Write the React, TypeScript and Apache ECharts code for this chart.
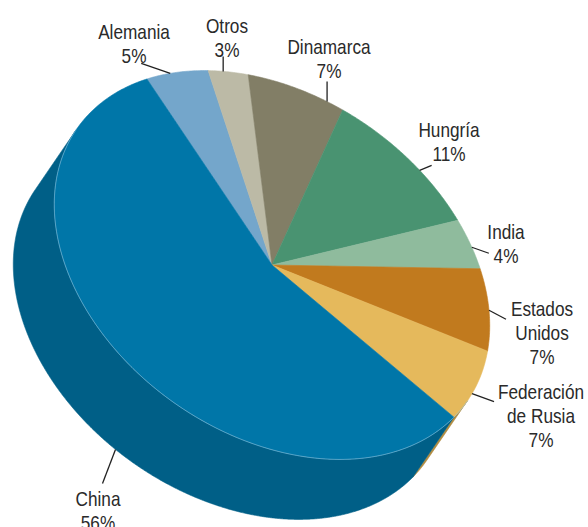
import React, { useEffect, useRef } from "react";
import * as echarts from "echarts";

// ---- data ----
const categories = [
  "Alemania",
  "Otros",
  "Dinamarca",
  "Hungría",
  "India",
  "Estados Unidos",
  "Federación de Rusia",
  "China",
];
const shares = [5, 3, 7, 11, 4, 7, 7, 56];
const labelNameLines = [
  ["Alemania"],
  ["Otros"],
  ["Dinamarca"],
  ["Hungría"],
  ["India"],
  ["Estados", "Unidos"],
  ["Federación", "de Rusia"],
  ["China"],
];

// ---- styles ----
const topColors = ["#74a6cb", "#bcbaa6", "#827e66", "#499371", "#8fbb9d", "#c17a1e", "#e5b95c", "#0076a8"];
const sideColors = ["#5a86a6", "#9a9886", "#68654f", "#3a765a", "#72967e", "#9c6218", "#b08c42", "#005f87"];
const FONT = '"Liberation Sans", Arial, sans-serif';
const TEXT_COLOR = "#2a2a2a";
const NARROW = 0.82;

// ---- geometry (layout) ----
const CX = 272;
const CY = 265;
const RA = 238;
const RB = 169;
const ROT = (35 * Math.PI) / 180;
const DX = -41;
const DY = 60;
const START = -151.5;

const labelLayout = [
  { frac: 0.4, dx: -29, dy: -10, tx: 134, ty: 20, bottom: false },
  { frac: 0.38, dx: 0, dy: -15, tx: 227, ty: 14, bottom: false },
  { frac: 0.83, dx: 0, dy: -20, tx: 329, ty: 35, bottom: false },
  { frac: 0.6, dx: 12, dy: -5, tx: 449, ty: 118, bottom: false },
  { frac: 0.56, dx: 17, dy: 6, tx: 506, ty: 220, bottom: false },
  { frac: 0.49, dx: 17, dy: 9, tx: 542, ty: 297, bottom: false },
  { frac: 0.6, dx: 22, dy: 8, tx: 541, ty: 380, bottom: false },
  { frac: 0.44, dx: -13, dy: 34, tx: 98, ty: 487, bottom: true },
];

const rad = (d: number) => (d * Math.PI) / 180;

function pt(deg: number, bottom: boolean): number[] {
  const c = Math.cos(rad(deg));
  const s = Math.sin(rad(deg));
  const x = CX + RA * c * Math.cos(ROT) - RB * s * Math.sin(ROT) + (bottom ? DX : 0);
  const y = CY + RA * c * Math.sin(ROT) + RB * s * Math.cos(ROT) + (bottom ? DY : 0);
  return [x, y];
}

const DU = DX * Math.cos(ROT) + DY * Math.sin(ROT);
const DV = -DX * Math.sin(ROT) + DY * Math.cos(ROT);
function isFront(deg: number): boolean {
  return (Math.cos(rad(deg)) / RA) * DU + (Math.sin(rad(deg)) / RB) * DV > 0;
}

function sliceSpans(): number[][] {
  const total = shares.reduce((a, b) => a + b, 0);
  let acc = START;
  return shares.map((v) => {
    const s = acc;
    acc += (v / total) * 360;
    return [s, acc];
  });
}

function sample(t0: number, t1: number, step: number): number[] {
  const n = Math.max(2, Math.ceil(Math.abs(t1 - t0) / step));
  const out: number[] = [];
  for (let k = 0; k <= n; k++) out.push(t0 + ((t1 - t0) * k) / n);
  return out;
}

function frontRuns(t0: number, t1: number): number[][] {
  const runs: number[][] = [];
  let cur: number[] = [];
  for (const th of sample(t0, t1, 0.25)) {
    if (isFront(th)) cur.push(th);
    else {
      if (cur.length > 1) runs.push(cur);
      cur = [];
    }
  }
  if (cur.length > 1) runs.push(cur);
  return runs;
}

export default function App() {
  const ref = useRef<HTMLDivElement>(null);
  useEffect(() => {
    if (!ref.current) return;
    const chart = echarts.init(ref.current, undefined, { renderer: "svg" });
    const spans = sliceSpans();
    const data = shares.map((v, i) => ({ name: categories[i], value: [v, i] }));

    const sideSeries = {
      type: "custom",
      coordinateSystem: "none",
      silent: true,
      z: 1,
      data,
      renderItem: (params: any) => {
        const i = params.dataIndex;
        const [t0, t1] = spans[i];
        const children = frontRuns(t0, t1).map((run) => ({
          type: "polygon",
          shape: {
            points: [
              ...run.map((t) => pt(t, false)),
              ...run
                .slice()
                .reverse()
                .map((t) => pt(t, true)),
            ],
          },
          style: { fill: sideColors[i], stroke: sideColors[i], lineWidth: 0.6 },
        }));
        return { type: "group", children };
      },
    };

    const topSeries = {
      type: "custom",
      coordinateSystem: "none",
      silent: true,
      z: 2,
      data,
      renderItem: (params: any) => {
        const i = params.dataIndex;
        const [t0, t1] = spans[i];
        const arc = sample(t0, t1, 0.5).map((t) => pt(t, false));
        const children: any[] = [
          {
            type: "polygon",
            shape: { points: [[CX, CY], ...arc] },
            style: { fill: topColors[i], stroke: topColors[i], lineWidth: 0.6 },
          },
        ];
        frontRuns(t0, t1).forEach((run) => {
          children.push({
            type: "polyline",
            shape: { points: run.map((t) => pt(t, false)) },
            style: { fill: null, stroke: "rgba(150,200,225,0.75)", lineWidth: 0.8 },
          });
        });
        return { type: "group", children };
      },
    };

    const labelSeries = {
      type: "custom",
      coordinateSystem: "none",
      silent: true,
      z: 3,
      data,
      renderItem: (params: any) => {
        const i = params.dataIndex;
        const [t0, t1] = spans[i];
        const L = labelLayout[i];
        const a = pt(t0 + (t1 - t0) * L.frac, L.bottom);
        const text = [...labelNameLines[i], shares[i] + "%"].join("\n");
        return {
          type: "group",
          children: [
            {
              type: "line",
              shape: { x1: a[0], y1: a[1], x2: a[0] + L.dx, y2: a[1] + L.dy },
              style: { stroke: "#222", lineWidth: 1.3 },
            },
            {
              type: "text",
              x: L.tx,
              y: L.ty,
              scaleX: NARROW,
              style: {
                text,
                x: 0,
                y: 0,
                fill: TEXT_COLOR,
                fontSize: 21,
                fontFamily: FONT,
                align: "center",
                verticalAlign: "top",
                lineHeight: 24,
              },
            },
          ],
        };
      },
    };

    chart.setOption({
      animation: false,
      backgroundColor: "#ffffff",
      series: [sideSeries, topSeries, labelSeries],
    } as any);
    return () => chart.dispose();
  }, []);
  return (
    <div
      ref={ref}
      style={{ position: "fixed", left: 0, top: 0, width: 588, height: 527, background: "#fff" }}
    />
  );
}
